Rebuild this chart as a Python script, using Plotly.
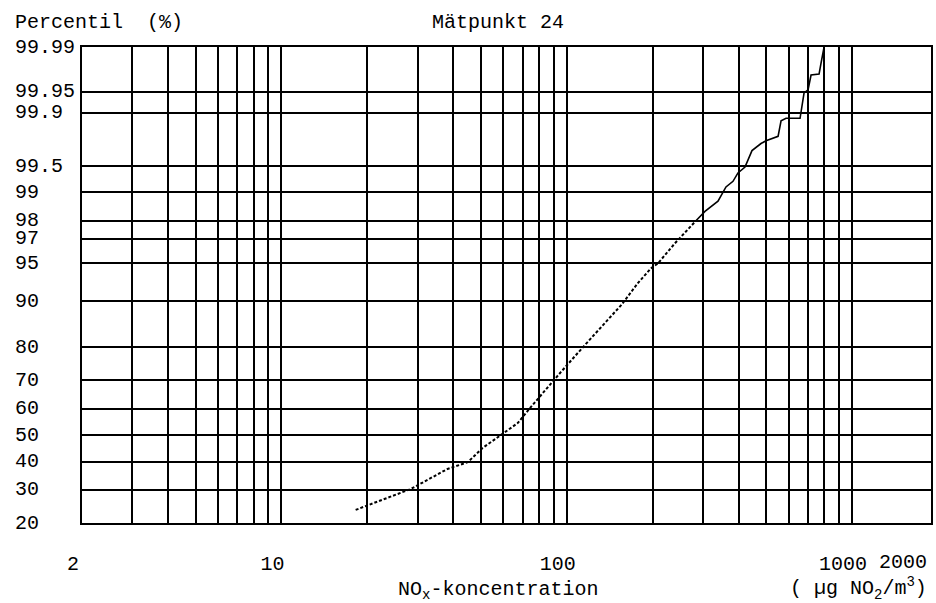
import math
from statistics import NormalDist
import plotly.graph_objects as go

# ---- data ----
conc = [18.2, 25.9, 28.4, 38.2, 45.0, 50.7, 57.3, 67.3, 74.8, 87.9,
        95.3, 115.7, 133.8, 156.0, 177.5, 197.1, 208.6, 239.3, 283.6, 305.0,
        338.8, 361.4, 382.4, 398.1, 421.3, 445.8, 479.5, 499.2, 550.2, 563.6,
        586.8, 657.0, 678.6, 700.8, 718.0, 766.0, 778.5, 797.6]
pct = [23.7, 29.0, 30.3, 37.3, 39.8, 45.1, 49.3, 54.6, 60.6, 69.1,
       72.7, 80.6, 85.4, 89.5, 92.75, 94.5, 95.0, 96.7, 98.0, 98.4,
       98.75, 99.13, 99.25, 99.40, 99.49, 99.68, 99.74, 99.76, 99.79, 99.87,
       99.88, 99.88, 99.948, 99.953, 99.972, 99.973, 99.982, 99.990]

y_tick_vals = [20, 30, 40, 50, 60, 70, 80, 90, 95, 97, 98, 99, 99.5, 99.9, 99.95, 99.99]
y_tick_text = ["20", "30", "40", "50", "60", "70", "80", "90", "95", "97", "98",
               "99", "99.5", "99.9", "99.95", "99.99"]
x_grid_vals = [2, 3, 4, 5, 6, 7, 8, 9, 10, 20, 30, 40, 50, 60, 70, 80, 90,
               100, 200, 300, 400, 500, 600, 700, 800, 900, 1000]
x_label_vals = [2, 10, 100, 1000]
x_label_text = ["2", "10", "100", "1000"]
x_end_label = "2000"

title = "Mätpunkt 24"
y_title = "Percentil\u00a0\u00a0(%)"
x_title = "NO<sub>x</sub>-koncentration"
x_unit = "(\u00a0µg NO<sub>2</sub>/m<sup>3</sup>)"

# ---- normal-probability scale for the y axis ----
nd = NormalDist()
def prob(p):
    return nd.inv_cdf(p / 100.0)

split = 18
FONT = "Liberation Mono, Courier New, monospace"
FS = 20
fig = go.Figure()
fig.add_trace(go.Scatter(x=conc[:split + 1], y=[prob(p) for p in pct[:split + 1]],
                         mode="lines", line=dict(color="black", width=2, dash="3px,2px"),
                         showlegend=False))
fig.add_trace(go.Scatter(x=conc[split:], y=[prob(p) for p in pct[split:]],
                         mode="lines", line=dict(color="black", width=1.6),
                         showlegend=False))

xt_text = [x_label_text[x_label_vals.index(v)] if v in x_label_vals else "" for v in x_grid_vals]

fig.update_xaxes(type="log", range=[math.log10(2), 3.2765],
                 tickvals=x_grid_vals, ticktext=xt_text,
                 showgrid=True, gridcolor="black", gridwidth=1.6,
                 showline=True, mirror=True, linecolor="black", linewidth=1.6,
                 zeroline=False, ticks="", ticklabelstandoff=21, ticklabelshift=-9,
                 tickfont=dict(family=FONT, size=FS, color="black"))
fig.update_yaxes(range=[prob(20), prob(99.99)],
                 tickvals=[prob(v) for v in y_tick_vals], showticklabels=False,
                 showgrid=True, gridcolor="black", gridwidth=1.6,
                 showline=True, mirror=True, linecolor="black", linewidth=1.6,
                 zeroline=False, ticks="")

txt = dict(family=FONT, size=FS, color="black")
ann = []
for v, t in zip(y_tick_vals, y_tick_text):
    ann.append(dict(x=0, xref="paper", y=prob(v), yref="y", text=t, showarrow=False,
                    xanchor="left", yanchor="middle", xshift=-69, font=txt))
ann.append(dict(x=0, xref="paper", y=1.052, yref="paper", text=y_title, showarrow=False,
                xanchor="left", yanchor="middle", xshift=-69, font=txt))
ann.append(dict(x=0.49, xref="paper", y=1.052, yref="paper", text=title, showarrow=False,
                xanchor="center", yanchor="middle", font=txt))
ann.append(dict(x=0.49, xref="paper", y=-0.141, yref="paper", text=x_title, showarrow=False,
                xanchor="center", yanchor="middle", font=txt))
ann.append(dict(x=1, xref="paper", y=-0.137, yref="paper", text=x_unit, showarrow=False,
                xanchor="right", yanchor="middle", xshift=-2, font=txt))
ann.append(dict(x=1, xref="paper", y=-0.084, yref="paper", text=x_end_label, showarrow=False,
                xanchor="right", yanchor="middle", xshift=-2, font=txt))

fig.update_layout(width=936, height=603, margin=dict(l=82, r=3, t=47, b=80),
                  paper_bgcolor="white", plot_bgcolor="white", annotations=ann,
                  font=txt)
fig.write_html("out.html", config={"displayModeBar": False},
               post_script="document.body.style.margin='0';document.body.style.overflow='hidden';")
